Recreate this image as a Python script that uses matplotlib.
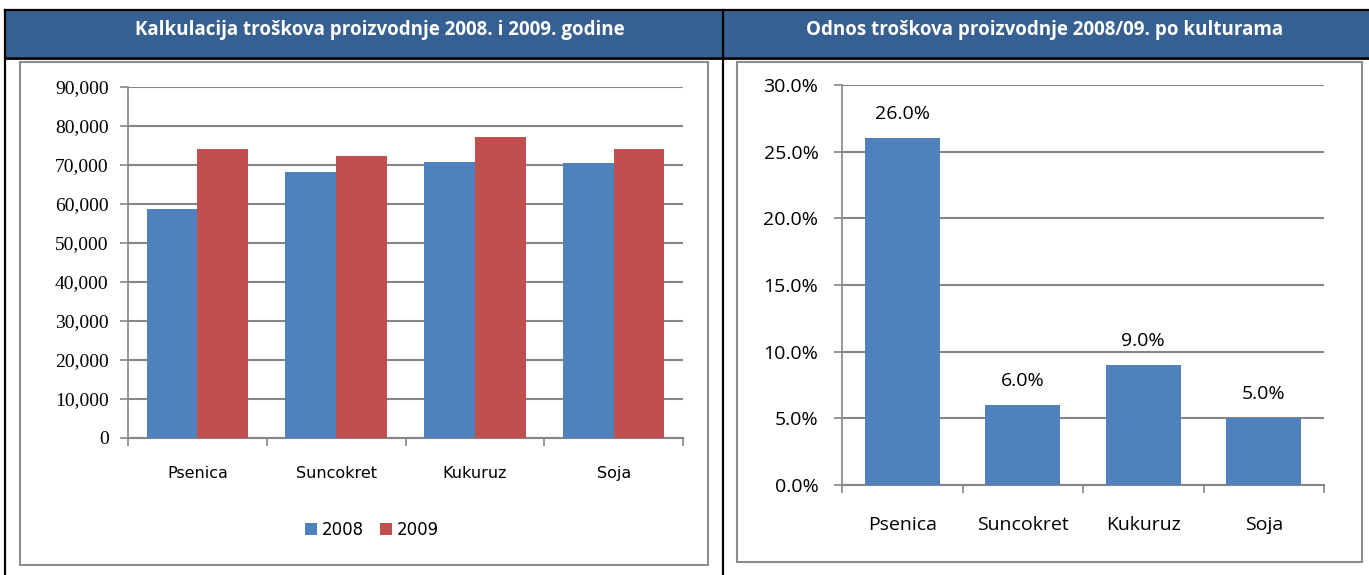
import matplotlib
matplotlib.use("Agg")
import matplotlib.pyplot as plt
from matplotlib.patches import Rectangle
from matplotlib.lines import Line2D
from matplotlib.ticker import FuncFormatter, FixedLocator
import numpy as np

categories = ["Psenica", "Suncokret", "Kukuruz", "Soja"]
costs_2008 = [58700, 68200, 70700, 70400]
costs_2009 = [74000, 72300, 77300, 74100]
ratio_pct = [26.0, 6.0, 9.0, 5.0]
series_names = ["2008", "2009"]
title_left = "Kalkulacija troškova proizvodnje 2008. i 2009. godine"
title_right = "Odnos troškova proizvodnje 2008/09. po kulturama"

W, H = 1369, 575
BLUE = "#4F81BD"
RED = "#C0504D"
GRID = "#868686"
HEAD = "#366092"

fig = plt.figure(figsize=(W / 100, H / 100), dpi=100)

def fx(x):
    return x / W

def fy(y):
    return 1 - y / H

def rect_px(x0, y0, x1, y1, **kw):
    r = Rectangle((fx(x0), fy(y1)), fx(x1) - fx(x0), fy(y0) - fy(y1),
                  transform=fig.transFigure, **kw)
    fig.add_artist(r)

def line_px(xs, ys, **kw):
    fig.add_artist(Line2D([fx(x) for x in xs], [fy(y) for y in ys],
                          transform=fig.transFigure, **kw))

# header band
rect_px(5, 10, W + 5, 57, facecolor=HEAD, edgecolor="none", zorder=-3)
line_px([5, W], [10, 10], color="black", lw=1.6, zorder=-1)
line_px([5, W], [57.5, 57.5], color="black", lw=2.0, zorder=-1)
line_px([5.5, 5.5], [10, H], color="black", lw=1.6, zorder=-1)
line_px([723, 723], [10, H], color="black", lw=1.6, zorder=-1)

fig.text(fx(380), fy(29.5), title_left, color="white", fontsize=13.5,
         fontweight="bold", family="Open Sans", ha="center", va="center")
fig.text(fx(1045), fy(29.5), title_right, color="white", fontsize=13.5,
         fontweight="bold", family="Open Sans", ha="center", va="center")

# chart boxes
rect_px(20, 62, 708, 565, facecolor="white", edgecolor="#8C8C8C", lw=1.5, zorder=-2)
rect_px(737, 62, 1362, 562, facecolor="white", edgecolor="#8C8C8C", lw=1.5, zorder=-2)

# ---------- left chart ----------
axL = fig.add_axes([fx(128), fy(438), fx(683) - fx(128), fy(87) - fy(438)])
axL.set_zorder(1)
axL.patch.set_alpha(0)
x = np.arange(len(categories))
bw = 0.365
axL.bar(x - bw / 2, costs_2008, bw, color=BLUE, label=series_names[0], zorder=3)
axL.bar(x + bw / 2, costs_2009, bw, color=RED, label=series_names[1], zorder=3)
axL.set_xlim(-0.5, len(categories) - 0.5)
axL.set_ylim(0, 90000)
axL.set_yticks(np.arange(0, 90001, 10000))
axL.yaxis.set_major_formatter(FuncFormatter(lambda v, p: f"{int(v):,}"))
axL.grid(axis="y", color=GRID, lw=1.5, zorder=0)
axL.set_axisbelow(True)
for s in ["top", "right"]:
    axL.spines[s].set_visible(False)
axL.spines["left"].set_color(GRID)
axL.spines["bottom"].set_color(GRID)
axL.spines["left"].set_linewidth(1.2)
axL.spines["bottom"].set_linewidth(1.5)
axL.set_xticks(x)
axL.set_xticklabels(categories, family="DejaVu Sans", fontsize=11.5)
axL.xaxis.set_minor_locator(FixedLocator(np.arange(-0.5, len(categories), 1)))
axL.tick_params(axis="x", which="major", length=0, pad=20)
axL.tick_params(axis="x", which="minor", length=6, color=GRID, width=1.2)
axL.tick_params(axis="y", length=6, color=GRID, width=1.2, pad=8)
for t in axL.get_yticklabels():
    t.set_family("Liberation Serif")
    t.set_fontsize(14)
leg = axL.legend(loc="center", bbox_to_anchor=(fx(372), fy(530)),
                 bbox_transform=fig.transFigure, ncol=2, frameon=False,
                 handlelength=0.7, handleheight=0.7, handletextpad=0.3,
                 columnspacing=1.0, prop={"family": "DejaVu Sans", "size": 12})

# ---------- right chart ----------
axR = fig.add_axes([fx(842), fy(485), fx(1324) - fx(842), fy(85) - fy(485)])
axR.set_zorder(1)
axR.patch.set_alpha(0)
bars = axR.bar(x, ratio_pct, 0.62, color=BLUE, zorder=3)
axR.set_xlim(-0.5, len(categories) - 0.5)
axR.set_ylim(0, 30)
axR.set_yticks(np.arange(0, 30.01, 5))
axR.yaxis.set_major_formatter(FuncFormatter(lambda v, p: f"{v:.1f}%"))
axR.grid(axis="y", color=GRID, lw=1.5, zorder=0)
axR.set_axisbelow(True)
for s in ["top", "right"]:
    axR.spines[s].set_visible(False)
axR.spines["left"].set_color(GRID)
axR.spines["bottom"].set_color(GRID)
axR.spines["left"].set_linewidth(1.2)
axR.spines["bottom"].set_linewidth(1.5)
axR.set_xticks(x)
axR.set_xticklabels(categories, family="Open Sans", fontsize=14)
axR.xaxis.set_minor_locator(FixedLocator(np.arange(-0.5, len(categories), 1)))
axR.tick_params(axis="x", which="major", length=0, pad=22)
axR.tick_params(axis="x", which="minor", length=6, color=GRID, width=1.2)
axR.tick_params(axis="y", length=6, color=GRID, width=1.2, pad=11)
for t in axR.get_yticklabels():
    t.set_family("Open Sans")
    t.set_fontsize(14)
for xi, v in zip(x, ratio_pct):
    axR.annotate(f"{v:.1f}%", (xi, v), xytext=(0, 11), textcoords="offset points",
                 ha="center", va="bottom", family="Open Sans", fontsize=14)

fig.savefig("out.png", dpi=100)
